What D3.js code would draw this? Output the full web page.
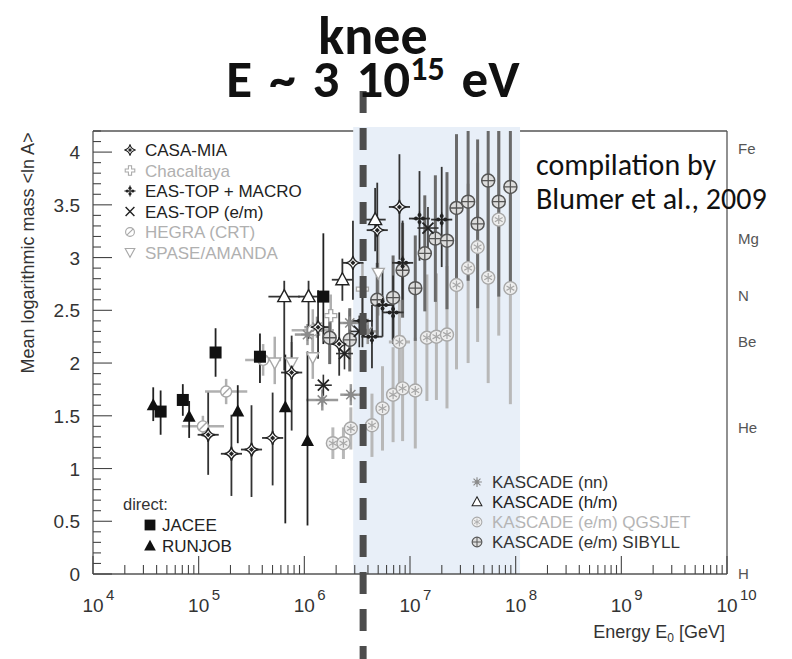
<!DOCTYPE html>
<html><head><meta charset="utf-8">
<script src="https://cdn.jsdelivr.net/npm/d3@7"></script>
<style>body{margin:0;background:#fff}svg{display:block}</style>
</head><body>
<svg id="c" width="792" height="659"></svg>
<script>
// ---------------- data ----------------
const yTickValues = [0, 0.5, 1, 1.5, 2, 2.5, 3, 3.5, 4];
const yTickLabels = ["0", "0.5", "1", "1.5", "2", "2.5", "3", "3.5", "4"];
const xDecades = [4, 5, 6, 7, 8, 9, 10];
const elementNames = ["Fe", "Mg", "N", "Be", "He", "H"];
const elementMass = [56, 24, 14, 9, 4, 1];
const kneeE = 3.6e6;            // GeV
const shadeRange = [2.9e6, 1.1e8];

// rows: [log10 E/GeV, <lnA>, errDown, errUp, xErr (dex)]
const jacee = [[4.64,1.54,0.22,0.20,0],[4.85,1.65,0.15,0.15,0],[5.16,2.10,0.23,0.23,0],[5.58,2.06,0.25,0.22,0],[6.18,2.63,0.45,0.60,0]];
const runjob = [[4.57,1.60,0.15,0.17,0],[4.91,1.49,0.20,0.15,0],[5.37,1.54,0.30,0.25,0],[5.82,1.58,1.10,0.50,0],[6.03,1.26,0.80,0.85,0]];
const casaMia = [[5.09,1.32,0.38,0.40,0.1],[5.31,1.14,0.40,0.37,0.1],[5.50,1.18,0.45,0.42,0.1],[5.70,1.29,0.45,0.43,0.1],[5.88,1.91,0.55,0.35,0.1],[6.13,2.34,0.30,0.35,0.1],[6.33,2.18,0.30,0.30,0.1],[6.46,2.95,0.35,0.40,0.1],[6.69,3.26,0.40,0.45,0.1],[6.90,3.48,0.50,0.50,0.1]];
const chacaltaya = [[6.25,2.45,0.20,0.20,0],[6.55,2.70,0.25,0.25,0]];
const easTopMacro = [[6.55,2.40,0.25,0.30,0.1],[6.64,2.25,0.30,0.30,0.1],[6.74,2.55,0.30,0.35,0.1],[6.84,2.48,0.30,0.35,0.1],[6.93,2.95,0.35,0.40,0.1],[7.09,3.37,0.40,0.45,0.1],[7.30,3.36,0.45,0.50,0.1]];
const easTopEm = [[6.18,1.79,0.10,0.10,0.08],[6.38,2.09,0.15,0.15,0.08],[6.52,2.30,0.15,0.15,0.08],[7.17,3.28,0.20,0.20,0.1]];
const hegra = [[5.04,1.40,0.10,0.10,0.2],[5.26,1.73,0.12,0.12,0.2],[5.61,2.03,0.15,0.15,0.17],[6.08,2.31,0.20,0.20,0.2]];
const spase = [[5.72,2.00,0.20,0.25,0],[5.88,2.00,0.35,0.20,0],[6.08,2.05,0.20,0.20,0],[6.70,2.85,0.40,0.40,0]];
const kascadeNN = [[6.03,2.27,0.10,0.10,0.12],[6.12,2.34,0.10,0.10,0.12],[6.17,1.65,0.10,0.10,0.15],[6.43,2.38,0.12,0.12,0.1],[6.44,1.70,0.10,0.10,0.1],[6.60,2.30,0.12,0.12,0.1]];
const kascadeHM = [[5.81,2.63,0.70,0.15,0.15],[6.04,2.63,0.40,0.15,0.1],[6.36,2.79,0.20,0.20,0.1],[6.67,3.36,0.30,0.30,0.1]];
const kascadeQGS = [[6.27,1.24,0.15,0.15,0],[6.37,1.24,0.15,0.15,0],[6.44,1.38,0.20,0.20,0],[6.64,1.41,0.30,0.30,0],[6.74,1.57,0.40,0.40,0],[6.84,1.70,0.45,0.45,0],[6.93,1.76,0.50,0.50,0],[7.05,1.74,0.55,0.50,0],[6.90,2.20,0.40,0.40,0.1],[7.16,2.24,0.60,0.60,0],[7.25,2.25,0.60,0.60,0],[7.35,2.27,0.70,0.65,0],[7.44,2.74,0.80,0.70,0],[7.55,2.90,0.90,0.80,0],[7.64,3.10,0.90,0.80,0],[7.74,2.81,1.00,0.90,0],[7.84,3.36,1.10,0.90,0],[7.95,2.71,1.10,1.00,0]];
const kascadeSIB = [[6.24,2.24,0.25,0.25,0],[6.43,2.22,0.30,0.30,0],[6.69,2.60,0.35,0.35,0],[6.84,2.62,0.40,0.40,0],[6.93,2.88,0.45,0.45,0],[7.05,2.71,0.50,0.50,0],[7.14,3.04,0.55,0.55,0],[7.24,3.18,0.60,0.60,0],[7.35,3.16,0.65,0.65,0],[7.44,3.47,0.70,0.70,0],[7.55,3.53,0.75,0.75,0],[7.64,3.32,0.80,0.80,0],[7.74,3.73,0.90,0.90,0],[7.84,3.53,0.90,0.90,0],[7.95,3.67,1.00,1.00,0]];

// ---------------- layout ----------------
const svg = d3.select("#c");
const x = d3.scaleLog().domain([1e4, 1e10]).range([93, 727]);
const y = d3.scaleLinear().domain([0, 4.2]).range([574, 131]);
const FONT = "'Liberation Sans', Arial, Helvetica, sans-serif";

// shaded knee region
svg.append("rect").attr("x", x(shadeRange[0])).attr("y", y(4.2) - 4)
  .attr("width", x(shadeRange[1]) - x(shadeRange[0])).attr("height", y(0) - y(4.2) + 4)
  .attr("fill", "#e8eff8");

// frame
const frame = svg.append("g").attr("stroke", "#555").attr("stroke-width", 1.3).attr("fill", "none");
frame.append("line").attr("x1", 93).attr("x2", 93).attr("y1", y(4.2)).attr("y2", y(0));
frame.append("line").attr("x1", 727).attr("x2", 727).attr("y1", y(4.2)).attr("y2", y(0));
frame.append("line").attr("x1", 93).attr("x2", 727).attr("y1", y(0)).attr("y2", y(0));
frame.append("line").attr("x1", 93).attr("x2", x(shadeRange[0])).attr("y1", y(4.2)).attr("y2", y(4.2));
frame.append("line").attr("x1", x(shadeRange[1])).attr("x2", 727).attr("y1", y(4.2)).attr("y2", y(4.2));

// y ticks
const yMinor = d3.range(0, 4.2001, 0.1);
svg.append("g").selectAll("line").data(yMinor).join("line")
  .attr("x1", 93).attr("x2", d => (Math.abs(d * 2 - Math.round(d * 2)) < 1e-6) ? 112 : 101)
  .attr("y1", d => y(d)).attr("y2", d => y(d)).attr("stroke", "#444").attr("stroke-width", 1.1);
svg.append("g").selectAll("text").data(yTickValues).join("text")
  .attr("x", 80).attr("y", d => y(d) + 7).attr("text-anchor", "end")
  .attr("font-family", FONT).attr("font-size", 19).attr("fill", "#333")
  .text((d, i) => yTickLabels[i]);

// x ticks
const xMinor = [];
for (let p = 4; p < 10; p++) for (let k = 2; k <= 9; k++) xMinor.push(k * Math.pow(10, p));
svg.append("g").selectAll("line").data(xMinor).join("line")
  .attr("x1", d => x(d)).attr("x2", d => x(d)).attr("y1", y(0)).attr("y2", y(0) - 9)
  .attr("stroke", "#444").attr("stroke-width", 1.1);
svg.append("g").selectAll("line").data(xDecades).join("line")
  .attr("x1", d => x(Math.pow(10, d))).attr("x2", d => x(Math.pow(10, d))).attr("y1", y(0)).attr("y2", y(0) - 18)
  .attr("stroke", "#444").attr("stroke-width", 1.1);
const xl = svg.append("g").attr("font-family", FONT).attr("fill", "#333");
xDecades.forEach(d => {
  const px = x(Math.pow(10, d));
  xl.append("text").attr("x", px).attr("y", 612).attr("text-anchor", "middle").attr("font-size", 19).text("10");
  xl.append("text").attr("x", px + 13).attr("y", 600).attr("font-size", 15).text(String(d));
});
const xlab = svg.append("text").attr("x", 725).attr("y", 638).attr("text-anchor", "end")
  .attr("font-family", FONT).attr("font-size", 18).attr("fill", "#333");
xlab.append("tspan").text("Energy E");
xlab.append("tspan").attr("font-size", 12).attr("dy", 4).text("0");
xlab.append("tspan").attr("dy", -4).text(" [GeV]");

svg.append("text").attr("transform", "translate(34,253) rotate(-90)").attr("text-anchor", "middle")
  .attr("font-family", FONT).attr("font-size", 18).attr("fill", "#333")
  .text("Mean logarithmic mass <ln A>");

// element labels on right
svg.append("g").selectAll("text").data(elementNames).join("text")
  .attr("x", 738).attr("y", (d, i) => y(Math.log(elementMass[i])) + 5)
  .attr("font-family", FONT).attr("font-size", 15).attr("fill", "#555").text(d => d);

// ---------------- symbols ----------------
function sym(g, type, col) {
  const s = g.append("g");
  if (type === "square") s.append("rect").attr("x", -6).attr("y", -6).attr("width", 12).attr("height", 12).attr("fill", "#111");
  else if (type === "tri") s.append("path").attr("d", "M0,-7L6.5,5L-6.5,5Z").attr("fill", "#111");
  else if (type === "star") {
    s.append("path").attr("d", "M0,-7Q1.2,-1.2 7,0Q1.2,1.2 0,7Q-1.2,1.2 -7,0Q-1.2,-1.2 0,-7Z")
      .attr("fill", "#fff").attr("stroke", col).attr("stroke-width", 1.4);
    s.append("path").attr("d", "M0,-2.5L2.5,0L0,2.5L-2.5,0Z").attr("fill", col);
  } else if (type === "ocross") s.append("path").attr("d", "M-2,-6H2V-2H6V2H2V6H-2V2H-6V-2H-2Z")
      .attr("fill", "#fff").attr("stroke", col).attr("stroke-width", 1.3);
  else if (type === "dots") {
    s.append("path").attr("d", "M0,-7V7M-7,0H7").attr("stroke", col).attr("stroke-width", 1.2);
    [[0,-3.5],[0,3.5],[-3.5,0],[3.5,0]].forEach(p => s.append("circle").attr("cx", p[0]).attr("cy", p[1]).attr("r", 2).attr("fill", col));
  } else if (type === "x") s.append("path").attr("d", "M-5.5,-5.5L5.5,5.5M-5.5,5.5L5.5,-5.5").attr("stroke", col).attr("stroke-width", 1.8);
  else if (type === "slash") {
    s.append("circle").attr("r", 5.5).attr("fill", "#fff").attr("stroke", col).attr("stroke-width", 1.4);
    s.append("path").attr("d", "M-4,4L4,-4").attr("stroke", col).attr("stroke-width", 1.4);
  } else if (type === "dtri") s.append("path").attr("d", "M-6,-5H6L0,6Z").attr("fill", "#fff").attr("stroke", col).attr("stroke-width", 1.4);
  else if (type === "snow") {
    s.append("path").attr("d", "M0,-6.5V6.5M-6.5,0H6.5M-4.6,-4.6L4.6,4.6M-4.6,4.6L4.6,-4.6").attr("stroke", col).attr("stroke-width", 1.5);
    s.append("circle").attr("r", 2.5).attr("fill", "none").attr("stroke", col).attr("stroke-width", 1);
  } else if (type === "otri") s.append("path").attr("d", "M0,-7L6.5,5L-6.5,5Z").attr("fill", "#fff").attr("stroke", col).attr("stroke-width", 1.4);
  else if (type === "ostar") {
    s.append("circle").attr("r", 6.5).attr("fill", "#eee").attr("stroke", col).attr("stroke-width", 1.4);
    s.append("path").attr("d", "M0,-4.5V4.5M-3.9,-2.2L3.9,2.2M-3.9,2.2L3.9,-2.2").attr("stroke", col).attr("stroke-width", 1.2);
  } else if (type === "oplus") {
    s.append("circle").attr("r", 6.5).attr("fill", "#ddd").attr("stroke", col).attr("stroke-width", 1.5);
    s.append("path").attr("d", "M0,-6.5V6.5M-6.5,0H6.5").attr("stroke", col).attr("stroke-width", 1.3);
  }
  return s;
}

const series = [
  {data: kascadeQGS, sym: "ostar", col: "#a8a8a8", bar: "#b8b8b8", bw: 3},
  {data: hegra, sym: "slash", col: "#a8a8a8", bar: "#b0b0b0", bw: 2.5},
  {data: spase, sym: "dtri", col: "#a8a8a8", bar: "#b0b0b0", bw: 2.5},
  {data: chacaltaya, sym: "ocross", col: "#a8a8a8", bar: "#b0b0b0", bw: 2.5},
  {data: kascadeNN, sym: "snow", col: "#8a8a8a", bar: "#999", bw: 2.5},
  {data: kascadeSIB, sym: "oplus", col: "#555", bar: "#6a6a6a", bw: 3},
  {data: casaMia, sym: "star", col: "#222", bar: "#333", bw: 1.8},
  {data: easTopMacro, sym: "dots", col: "#222", bar: "#333", bw: 1.8},
  {data: easTopEm, sym: "x", col: "#222", bar: "#333", bw: 1.6},
  {data: kascadeHM, sym: "otri", col: "#222", bar: "#333", bw: 1.8},
  {data: jacee, sym: "square", col: "#111", bar: "#222", bw: 1.8},
  {data: runjob, sym: "tri", col: "#111", bar: "#222", bw: 1.8}
];

svg.append("clipPath").attr("id", "clip").append("rect")
  .attr("x", 93).attr("y", y(4.2)).attr("width", 634).attr("height", y(0) - y(4.2));
const plot = svg.append("g").attr("clip-path", "url(#clip)");

// error bars first, then symbols
series.forEach(s => {
  const g = plot.append("g").attr("stroke", s.bar).attr("stroke-width", s.bw);
  g.selectAll("line.v").data(s.data).join("line").attr("class", "v")
    .attr("x1", d => x(Math.pow(10, d[0]))).attr("x2", d => x(Math.pow(10, d[0])))
    .attr("y1", d => y(d[1] - d[2])).attr("y2", d => y(d[1] + d[3]));
  g.selectAll("line.h").data(s.data.filter(d => d[4] > 0)).join("line").attr("class", "h")
    .attr("x1", d => x(Math.pow(10, d[0] - d[4]))).attr("x2", d => x(Math.pow(10, d[0] + d[4])))
    .attr("y1", d => y(d[1])).attr("y2", d => y(d[1]));
});
series.forEach(s => {
  s.data.forEach(d => {
    sym(plot, s.sym, s.col).attr("transform", `translate(${x(Math.pow(10, d[0]))},${y(d[1])})`);
  });
});

// ---------------- legends ----------------
const leg1 = [
  ["CASA-MIA", "star", "#222", "#222"],
  ["Chacaltaya", "ocross", "#a8a8a8", "#b0b0b0"],
  ["EAS-TOP + MACRO", "dots", "#222", "#222"],
  ["EAS-TOP (e/m)", "x", "#222", "#222"],
  ["HEGRA (CRT)", "slash", "#a8a8a8", "#b0b0b0"],
  ["SPASE/AMANDA", "dtri", "#a8a8a8", "#b0b0b0"]
];
leg1.forEach((e, i) => {
  const yy = 150 + i * 20.5;
  sym(svg, e[1], e[2]).attr("transform", `translate(130,${yy}) scale(0.8)`);
  svg.append("text").attr("x", 145).attr("y", yy + 6).attr("font-family", FONT).attr("font-size", 17)
    .attr("fill", e[3]).text(e[0]);
});
const leg2 = [
  ["KASCADE (nn)", "snow", "#8a8a8a", "#333"],
  ["KASCADE (h/m)", "otri", "#222", "#222"],
  ["KASCADE (e/m) QGSJET", "ostar", "#a8a8a8", "#b5b5b5"],
  ["KASCADE (e/m) SIBYLL", "oplus", "#555", "#333"]
];
leg2.forEach((e, i) => {
  const yy = 482 + i * 20;
  sym(svg, e[1], e[2]).attr("transform", `translate(477,${yy}) scale(0.75)`);
  svg.append("text").attr("x", 492).attr("y", yy + 6).attr("font-family", FONT).attr("font-size", 17)
    .attr("fill", e[3]).text(e[0]);
});
svg.append("text").attr("x", 123).attr("y", 510).attr("font-family", FONT).attr("font-size", 16.5).attr("fill", "#333").text("direct:");
[["JACEE", "square"], ["RUNJOB", "tri"]].forEach((e, i) => {
  const yy = 525 + i * 21;
  sym(svg, e[1], "#111").attr("transform", `translate(150,${yy}) scale(0.9)`);
  svg.append("text").attr("x", 162).attr("y", yy + 6).attr("font-family", FONT).attr("font-size", 17).attr("fill", "#222").text(e[0]);
});

// ---------------- overlay annotations ----------------
svg.append("line").attr("x1", x(kneeE)).attr("x2", x(kneeE)).attr("y1", 91).attr("y2", 659)
  .attr("stroke", "#4d4d4d").attr("stroke-width", 7).attr("stroke-dasharray", "22,15");

const TF = "Carlito, Calibri, 'Open Sans', sans-serif";
svg.append("text").attr("x", 373).attr("y", 54).attr("text-anchor", "middle").attr("font-family", TF)
  .attr("font-weight", "bold").attr("font-size", 54).attr("fill", "#111").text("knee");
const t2 = svg.append("text").attr("x", 373).attr("y", 97).attr("text-anchor", "middle").attr("font-family", TF)
  .attr("font-weight", "bold").attr("font-size", 53).attr("word-spacing", 5).attr("fill", "#111");
t2.append("tspan").text("E ~ 3 10");
t2.append("tspan").attr("font-size", 34).attr("dy", -17).text("15");
t2.append("tspan").attr("dy", 17).text(" eV");

svg.append("text").attr("x", 536).attr("y", 175).attr("font-family", TF).attr("font-size", 30).attr("fill", "#111").text("compilation by");
svg.append("text").attr("x", 536).attr("y", 209).attr("font-family", TF).attr("font-size", 30).attr("fill", "#111").text("Blumer et al., 2009");
</script>
</body></html>
